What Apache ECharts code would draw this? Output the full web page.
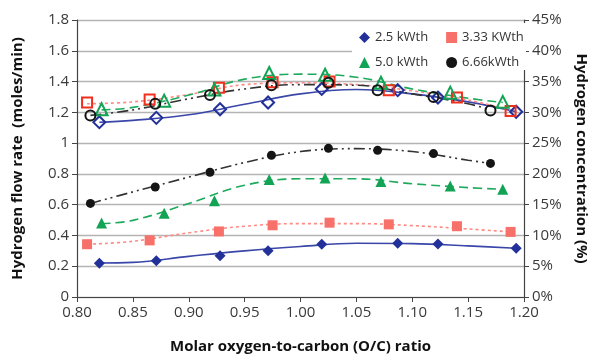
<!DOCTYPE html>
<html>
<head>
<meta charset="utf-8">
<script src="https://cdn.jsdelivr.net/npm/echarts@6/dist/echarts.min.js"></script>
<style>
  html, body { margin: 0; padding: 0; background: #fff; }
  #chart { width: 597px; height: 359px; }
</style>
</head>
<body>
<div id="chart"></div>
<script>
// O/C ratio of each measured point, per power level
const blueX  = [0.820, 0.871, 0.928, 0.971, 1.019, 1.087, 1.123, 1.193]
const redX   = [0.809, 0.865, 0.927, 0.975, 1.026, 1.079, 1.140, 1.188]
const greenX = [0.822, 0.878, 0.923, 0.972, 1.022, 1.072, 1.134, 1.181]
const blackX = [0.812, 0.870, 0.919, 0.974, 1.025, 1.069, 1.119, 1.170]

// hydrogen flow rate (moles/min), filled markers
const blueFlow  = [0.219, 0.236, 0.268, 0.300, 0.343, 0.349, 0.345, 0.317]
const redFlow   = [0.343, 0.368, 0.426, 0.466, 0.483, 0.472, 0.460, 0.423]
const greenFlow = [0.481, 0.545, 0.625, 0.764, 0.774, 0.751, 0.721, 0.700]
const blackFlow = [0.608, 0.715, 0.811, 0.921, 0.966, 0.953, 0.932, 0.868]

// hydrogen concentration (%), open markers
const blueConc  = [28.4, 29.1, 30.5, 31.6, 33.8, 33.6, 32.4, 30.1]
const redConc   = [31.6, 32.1, 34.0, 34.9, 35.0, 33.6, 32.4, 30.2]
const greenConc = [30.5, 31.9, 33.7, 36.4, 36.1, 34.8, 33.2, 31.7]
const blackConc = [29.5, 31.4, 32.8, 34.4, 34.8, 33.6, 32.5, 30.3]

// trend curves
const blueTrendX  = [0.820, 0.85, 0.90, 0.95, 1.00, 1.05, 1.10, 1.15, 1.193]
const redTrendX   = [0.809, 0.85, 0.90, 0.95, 1.00, 1.05, 1.10, 1.15, 1.188]
const greenTrendX = [0.822, 0.85, 0.90, 0.95, 1.00, 1.05, 1.10, 1.15, 1.181]
const blackTrendX = [0.812, 0.85, 0.90, 0.95, 1.00, 1.05, 1.10, 1.15, 1.170]

const blueFlowTrend  = [0.221, 0.225, 0.264, 0.300, 0.328, 0.349, 0.347, 0.332, 0.317]
const redFlowTrend   = [0.343, 0.362, 0.417, 0.460, 0.477, 0.477, 0.464, 0.442, 0.423]
const greenFlowTrend = [0.477, 0.498, 0.608, 0.726, 0.768, 0.768, 0.736, 0.711, 0.700]
const blackFlowTrend = [0.608, 0.683, 0.779, 0.874, 0.945, 0.964, 0.945, 0.889, 0.868]

const blueConcTrend  = [28.4, 28.7, 29.6, 31.3, 33.0, 33.7, 33.0, 31.7, 30.1]
const redConcTrend   = [31.4, 31.7, 32.9, 34.5, 34.8, 34.5, 33.5, 32.0, 30.3]
const greenConcTrend = [30.4, 30.8, 32.8, 35.4, 36.2, 35.7, 33.8, 32.3, 31.6]
const blackConcTrend = [29.5, 30.4, 32.2, 33.8, 34.5, 34.4, 33.0, 31.4, 30.4]

const legendNames = ['2.5 kWth', '3.33 KWth', '5.0 kWth', '6.66kWth']

const FONT = 'Open Sans'
const pair = (xs, ys) => xs.map((x, i) => [x, ys[i]])

const groups = [
  { name: legendNames[0], color: '#22309a', lineColor: '#3a46a8', symbol: 'diamond', size: 11, openSize: 12,
    x: blueX, flow: blueFlow, conc: blueConc, tx: blueTrendX, ft: blueFlowTrend, ct: blueConcTrend, dash: 'solid' },
  { name: legendNames[1], color: '#f8706a', openColor: '#f0301c', lineColor: '#ff8a84', symbol: 'rect', size: 10, openSize: 10,
    x: redX, flow: redFlow, conc: redConc, tx: redTrendX, ft: redFlowTrend, ct: redConcTrend, dash: [3, 3] },
  { name: legendNames[2], color: '#12a454', lineColor: '#1eaa5c', symbol: 'triangle', size: 11, openSize: 12,
    x: greenX, flow: greenFlow, conc: greenConc, tx: greenTrendX, ft: greenFlowTrend, ct: greenConcTrend, dash: [9, 5] },
  { name: legendNames[3], color: '#151515', lineColor: '#333', symbol: 'circle', size: 9, openSize: 10,
    x: blackX, flow: blackFlow, conc: blackConc, tx: blackTrendX, ft: blackFlowTrend, ct: blackConcTrend, dash: [11, 4, 2, 4, 2, 4] }
]

let series = []
groups.forEach(g => {
  // flow trend + filled markers
  series.push({
    type: 'line', yAxisIndex: 0, smooth: 0.4, showSymbol: false, silent: true,
    data: pair(g.tx, g.ft),
    lineStyle: { color: g.lineColor, width: 1.6, type: g.dash }
  })
  series.push({
    name: g.name, type: 'scatter', yAxisIndex: 0, z: 4,
    symbol: g.symbol, symbolSize: g.size,
    data: pair(g.x, g.flow),
    itemStyle: { color: g.color, opacity: 1 }
  })
  // concentration trend + open markers
  series.push({
    type: 'line', yAxisIndex: 1, smooth: 0.4, showSymbol: false, silent: true,
    data: pair(g.tx, g.ct),
    lineStyle: { color: g.lineColor, width: 1.6, type: g.dash }
  })
  series.push({
    name: g.name + ' conc', type: 'scatter', yAxisIndex: 1, z: 4,
    symbol: g.symbol, symbolSize: g.openSize,
    data: pair(g.x, g.conc),
    itemStyle: { color: 'rgba(255,255,255,0)', borderColor: g.openColor || g.color, borderWidth: 2, opacity: 1 }
  })
})

const axisText = { color: '#3a3a3a', fontFamily: FONT, fontSize: 15 }
const nameText = { color: '#111', fontFamily: FONT, fontSize: 15, fontWeight: 'bold' }

const legendBase = {
  left: 354, itemWidth: 11, itemHeight: 11, itemGap: 18,
  textStyle: { color: '#333', fontFamily: FONT, fontSize: 13 },
  selectedMode: false
}

let option = {
  animation: false,
  grid: { left: 77, right: 70, top: 20, bottom: 57 },
  graphic: [{
    type: 'rect', z: 1,
    shape: { x: 352, y: 23, width: 174, height: 47 },
    style: { fill: '#fff' }
  }],
  legend: [
    Object.assign({}, legendBase, {
      top: 26,
      data: [
        { name: legendNames[0], icon: 'diamond', itemStyle: { color: '#22309a' } },
        { name: legendNames[1], icon: 'rect', itemStyle: { color: '#f8706a' } }
      ]
    }),
    Object.assign({}, legendBase, {
      top: 51,
      data: [
        { name: legendNames[2], icon: 'triangle', itemStyle: { color: '#12a454' } },
        { name: legendNames[3], icon: 'circle', itemStyle: { color: '#151515' } }
      ]
    })
  ],
  xAxis: {
    type: 'value', min: 0.8, max: 1.2, interval: 0.05,
    name: 'Molar oxygen-to-carbon (O/C) ratio',
    nameLocation: 'middle', nameGap: 42, nameTextStyle: nameText,
    axisLine: { onZero: false, lineStyle: { color: '#444', width: 1.2 } },
    axisTick: { show: true, length: 5, lineStyle: { color: '#444' } },
    axisLabel: Object.assign({ margin: 8, formatter: v => v.toFixed(2) }, axisText),
    splitLine: { show: false }
  },
  yAxis: [{
    type: 'value', min: 0, max: 1.8, interval: 0.2,
    name: 'Hydrogen flow rate  (moles/min)',
    nameLocation: 'middle', nameGap: 52, nameRotate: 90, nameTextStyle: nameText,
    axisLine: { show: true, lineStyle: { color: '#444', width: 1.2 } },
    axisTick: { show: true, length: 5, lineStyle: { color: '#444' } },
    axisLabel: Object.assign({ margin: 8, formatter: v => String(Math.round(v * 10) / 10) }, axisText),
    splitLine: { lineStyle: { color: '#b4b4b4', width: 1.3 } }
  }, {
    type: 'value', min: 0, max: 45, interval: 5, position: 'right',
    name: 'Hydrogen concentration (%)',
    nameLocation: 'middle', nameGap: 50, nameRotate: -90, nameTextStyle: nameText,
    axisLine: { show: true, lineStyle: { color: '#444', width: 1.2 } },
    axisTick: { show: true, length: 5, lineStyle: { color: '#444' } },
    axisLabel: Object.assign({ margin: 8, formatter: v => v + '%' }, axisText),
    splitLine: { show: false }
  }],
  series: series
}

let chart = echarts.init(document.getElementById('chart'))
chart.setOption(option)
</script>
</body>
</html>
